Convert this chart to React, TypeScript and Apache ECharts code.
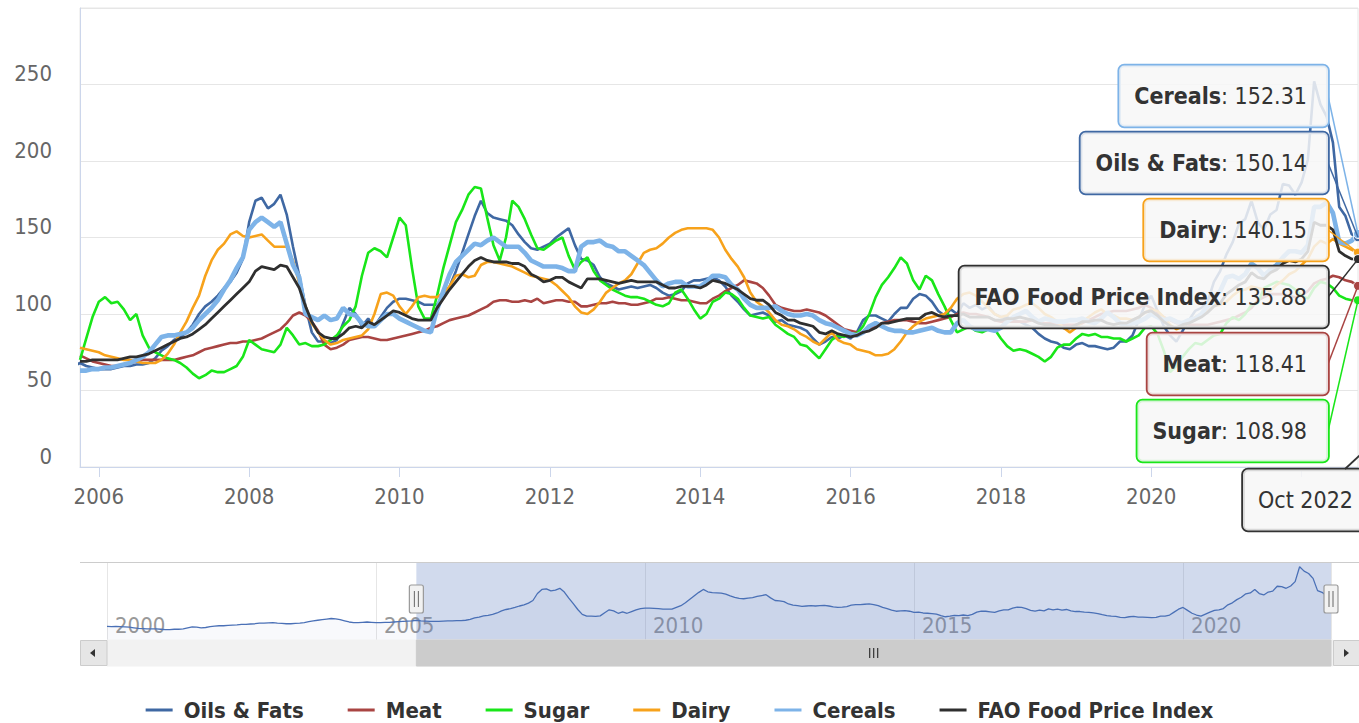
import React, { useEffect, useRef } from "react";
import * as echarts from "echarts";

// ---------------- DATA ----------------
const SERIES_NAMES = ["Oils & Fats", "Meat", "Sugar", "Dairy", "Cereals", "FAO Food Price Index"];
const X_TICK_YEARS = [2006, 2008, 2010, 2012, 2014, 2016, 2018, 2020, 2022];
// 2022 label sits under the tooltip header in the reference, so it is not printed
const X_LABEL_YEARS = [2006, 2008, 2010, 2012, 2014, 2016, 2018, 2020];
const NAV_TICK_YEARS = [2000, 2005, 2010, 2015, 2020];
const MONTHS = ["Jan", "Feb", "Mar", "Apr", "May", "Jun", "Jul", "Aug", "Sep", "Oct", "Nov", "Dec"];

const VIEW_FROM = 2005.75; // Oct 2005
const VIEW_TO = 2022.75; // Oct 2022
const NAV_FROM = 2000;

// Oils & Fats, monthly from Jan 2000
const OILS_FATS = [
  [47, 46, 47, 46, 45, 44, 42, 40, 39, 38, 38, 38],
  [37, 36, 36, 37, 37, 38, 42, 45, 44, 42, 43, 46],
  [48, 49, 49, 50, 51, 52, 54, 54, 55, 56, 58, 58],
  [59, 60, 58, 57, 56, 56, 57, 58, 60, 63, 66, 68],
  [70, 72, 74, 73, 70, 66, 62, 60, 60, 61, 62, 61],
  [60, 60, 61, 61, 62, 63, 64, 65, 66, 68, 66, 65],
  [64, 64, 64, 65, 66, 66, 67, 67, 68, 71, 76, 79],
  [83, 85, 88, 93, 100, 105, 108, 112, 117, 121, 127, 136],
  [160, 174, 176, 169, 172, 178, 165, 144, 125, 105, 88, 82],
  [82, 81, 83, 94, 104, 100, 92, 97, 92, 98, 104, 108],
  [110, 110, 109, 108, 106, 106, 106, 112, 118, 128, 140, 152],
  [164, 174, 166, 163, 162, 161, 158, 152, 147, 143, 142, 144],
  [146, 150, 153, 156, 145, 136, 135, 132, 124, 120, 118, 116],
  [117, 118, 117, 118, 119, 117, 114, 112, 113, 115, 120, 122],
  [122, 123, 124, 122, 118, 112, 108, 103, 99, 100, 101, 99],
  [95, 96, 93, 92, 91, 89, 84, 80, 82, 85, 84, 86],
  [84, 88, 96, 99, 99, 97, 95, 100, 104, 104, 110, 113],
  [112, 108, 102, 99, 103, 100, 107, 104, 106, 103, 105, 100],
  [98, 98, 96, 95, 93, 91, 87, 84, 82, 81, 78, 77],
  [80, 81, 79, 79, 78, 77, 78, 82, 82, 86, 96, 106],
  [112, 102, 92, 86, 82, 89, 96, 102, 104, 108, 121, 128],
  [139, 147, 159, 162, 174, 160, 155, 165, 168, 185, 184, 178],
  [186, 201, 252, 237, 229, 212, 170, 164, 152, 150.14],
].flat();

// The other indices, monthly from Oct 2005
const MEAT = [
  [73, 71, 69],
  [68, 67, 66, 66, 67, 68, 69, 70, 70, 70, 70, 70],
  [70, 71, 72, 73, 75, 77, 78, 79, 80, 81, 81, 82],
  [82, 83, 84, 86, 88, 90, 94, 99, 101, 99, 95, 89],
  [80, 77, 78, 80, 83, 84, 85, 85, 84, 83, 83, 84],
  [85, 86, 87, 88, 89, 91, 92, 94, 96, 97, 98, 99],
  [101, 103, 105, 108, 109, 109, 108, 108, 109, 108, 110, 107],
  [108, 109, 109, 108, 108, 105, 105, 106, 107, 107, 108, 107],
  [107, 106, 106, 107, 108, 110, 110, 111, 110, 109, 109, 108],
  [107, 107, 110, 112, 115, 117, 119, 122, 121, 120, 117, 112],
  [106, 104, 103, 102, 102, 103, 102, 101, 99, 96, 93, 90],
  [89, 88, 88, 90, 92, 94, 95, 96, 96, 96, 95, 94],
  [94, 95, 96, 97, 98, 100, 101, 100, 100, 99, 98, 96],
  [95, 95, 95, 95, 95, 96, 94, 94, 94, 93, 93, 93],
  [93, 94, 96, 98, 100, 101, 102, 102, 102, 103, 104, 106],
  [104, 101, 98, 96, 94, 94, 93, 93, 93, 93, 94, 95],
  [96, 97, 99, 101, 104, 109, 111, 113, 113, 113, 112, 111],
  [112, 115, 120, 122, 123, 125, 124, 122, 121, 118.41],
].flat();

const SUGAR = [
  [70, 84, 98],
  [108, 111, 107, 108, 103, 96, 100, 86, 78, 75, 73, 71],
  [70, 68, 65, 61, 58, 60, 63, 62, 62, 64, 66, 72],
  [83, 80, 77, 76, 75, 80, 91, 86, 80, 81, 79, 79],
  [80, 83, 86, 92, 96, 105, 125, 140, 143, 141, 137, 150],
  [163, 158, 130, 105, 97, 97, 112, 130, 145, 160, 168, 178],
  [183, 182, 163, 145, 135, 150, 174, 170, 162, 152, 143, 142],
  [145, 148, 150, 138, 129, 134, 137, 128, 122, 119, 116, 114],
  [112, 111, 111, 110, 108, 106, 105, 107, 114, 116, 110, 103],
  [97, 100, 108, 110, 114, 113, 110, 104, 99, 98, 97, 98],
  [93, 90, 87, 85, 80, 79, 75, 71, 77, 83, 86, 85],
  [87, 87, 92, 100, 111, 119, 124, 130, 137, 133, 122, 116],
  [125, 122, 113, 105, 96, 88, 90, 92, 89, 88, 90, 90],
  [84, 79, 76, 77, 76, 74, 72, 69, 72, 78, 80, 80],
  [84, 87, 86, 87, 85, 85, 84, 84, 82, 84, 86, 91],
  [92, 87, 76, 62, 66, 72, 77, 81, 80, 83, 86, 87],
  [94, 98, 96, 100, 106, 107, 117, 119, 121, 120, 119, 116],
  [112, 110, 117, 121, 120, 117, 112, 110, 109, 108.98],
].flat();

const DAIRY = [
  [78, 77, 76],
  [75, 73, 72, 71, 70, 70, 69, 68, 68, 68, 70, 74],
  [80, 88, 95, 104, 112, 125, 135, 142, 146, 152, 154, 151],
  [150, 151, 152, 148, 144, 144, 144, 135, 120, 105, 94, 88],
  [83, 80, 81, 83, 84, 85, 86, 90, 100, 113, 114, 112],
  [105, 100, 105, 111, 112, 111, 111, 114, 118, 125, 126, 124],
  [125, 132, 134, 134, 133, 132, 131, 129, 127, 125, 124, 123],
  [122, 119, 115, 111, 105, 101, 100, 103, 108, 114, 117, 120],
  [122, 126, 133, 140, 142, 143, 146, 150, 153, 155, 156, 156],
  [156, 156, 155, 150, 142, 136, 131, 124, 114, 108, 105, 101],
  [96, 93, 92, 90, 87, 85, 82, 80, 84, 88, 83, 81],
  [80, 77, 76, 75, 73, 73, 74, 77, 82, 88, 92, 95],
  [97, 98, 99, 100, 104, 110, 113, 114, 112, 108, 104, 100],
  [98, 99, 103, 104, 106, 107, 104, 100, 98, 95, 91, 88],
  [91, 95, 98, 101, 103, 100, 99, 97, 97, 96, 98, 101],
  [103, 102, 98, 93, 90, 92, 95, 98, 100, 102, 105, 106],
  [108, 112, 115, 116, 118, 117, 116, 115, 119, 122, 126, 128],
  [132, 136, 144, 148, 146, 149, 146, 144, 142, 140.15],
].flat();

const CEREALS = [
  [63, 63, 64],
  [64, 65, 65, 66, 67, 68, 70, 72, 75, 80, 85, 86],
  [86, 87, 88, 91, 96, 100, 104, 109, 116, 122, 130, 137],
  [155, 160, 163, 160, 157, 160, 146, 132, 124, 100, 98, 96],
  [99, 96, 97, 104, 100, 99, 94, 92, 92, 96, 100, 100],
  [97, 95, 93, 91, 89, 88, 103, 115, 126, 134, 138, 142],
  [146, 145, 148, 150, 147, 144, 144, 144, 140, 135, 133, 131],
  [131, 131, 130, 128, 128, 144, 147, 147, 148, 145, 144, 141],
  [141, 138, 135, 132, 127, 122, 118, 120, 121, 121, 118, 118],
  [118, 121, 125, 125, 124, 119, 116, 110, 106, 104, 104, 104],
  [105, 102, 100, 99, 99, 100, 99, 96, 94, 93, 91, 89],
  [87, 86, 88, 92, 94, 92, 90, 89, 89, 88, 88, 89],
  [90, 91, 89, 88, 88, 94, 96, 92, 90, 90, 90, 89],
  [91, 95, 98, 100, 102, 98, 95, 97, 96, 95, 95, 96],
  [96, 97, 95, 94, 97, 101, 98, 94, 93, 94, 95, 97],
  [100, 98, 96, 97, 95, 94, 96, 97, 100, 105, 111, 115],
  [124, 125, 123, 126, 133, 130, 125, 129, 132, 137, 141, 141],
  [140, 145, 170, 170, 173, 166, 147, 146, 148, 152.31],
].flat();

const FFPI = [
  [69, 69, 70],
  [70, 70, 70, 70, 71, 72, 72, 73, 74, 76, 78, 80],
  [82, 84, 85, 87, 90, 93, 97, 101, 105, 109, 113, 117],
  [121, 128, 131, 130, 129, 132, 131, 124, 117, 105, 95, 88],
  [85, 84, 84, 87, 91, 92, 91, 95, 93, 96, 99, 102],
  [101, 99, 97, 96, 96, 96, 104, 110, 116, 121, 126, 131],
  [135, 137, 135, 134, 134, 134, 133, 133, 131, 126, 124, 121],
  [122, 124, 124, 121, 119, 117, 123, 123, 123, 122, 121, 120],
  [121, 122, 121, 121, 121, 121, 119, 117, 117, 118, 118, 118],
  [117, 119, 122, 121, 120, 118, 116, 113, 110, 109, 109, 106],
  [101, 99, 96, 96, 94, 93, 92, 88, 87, 89, 87, 86],
  [85, 86, 88, 89, 91, 94, 94, 95, 96, 97, 97, 97],
  [100, 101, 99, 98, 99, 99, 100, 98, 98, 98, 98, 96],
  [96, 97, 97, 98, 97, 96, 94, 93, 93, 92, 91, 91],
  [93, 95, 95, 96, 96, 94, 93, 94, 94, 96, 98, 101],
  [102, 99, 95, 92, 91, 93, 94, 96, 98, 101, 105, 107],
  [113, 116, 119, 121, 127, 124, 123, 127, 129, 133, 135, 134],
  [136, 141, 160, 158, 158, 155, 141, 138, 136, 135.88],
].flat();

const SERIES_VALUES = [OILS_FATS, MEAT, SUGAR, DAIRY, CEREALS, FFPI];
const SERIES_START = [
  [2000, 0],
  [2005, 9],
  [2005, 9],
  [2005, 9],
  [2005, 9],
  [2005, 9],
];

// ---------------- STYLE ----------------
const COLORS = ["#3f68a3", "#a94442", "#19e619", "#f7a21b", "#7db3e8", "#2f2f2f"];
const WIDTHS = [2.6, 2.6, 2.6, 2.6, 4.6, 2.8];
const FONT = "'DejaVu Sans Condensed', 'Liberation Sans Narrow', 'DejaVu Sans', sans-serif";
const TIP_BG = "rgba(247,247,247,0.85)";

function toPoints(values: number[], start: number[]) {
  return values.map((v, i) => [start[0] + (start[1] + i) / 12, v]);
}

function buildOption(): any {
  const series: any[] = SERIES_NAMES.map((name, i) => {
    const last = SERIES_VALUES[i][SERIES_VALUES[i].length - 1];
    return {
      type: "line",
      name,
      xAxisIndex: 0,
      yAxisIndex: 0,
      data: toPoints(SERIES_VALUES[i], SERIES_START[i]),
      showSymbol: false,
      color: COLORS[i],
      lineStyle: { color: COLORS[i], width: WIDTHS[i] },
      itemStyle: { color: COLORS[i] },
      emphasis: { disabled: true },
      silent: true,
      z: 2 + i * 0.01,
      markPoint: {
        symbol: "circle",
        symbolSize: 9,
        silent: true,
        label: { show: false },
        itemStyle: { color: COLORS[i], borderColor: "#ffffff", borderWidth: 1 },
        data: [{ coord: [VIEW_TO, last] }],
      },
    };
  });

  series.push({
    type: "line",
    name: "Navigator",
    xAxisIndex: 1,
    yAxisIndex: 1,
    data: toPoints(OILS_FATS, SERIES_START[0]),
    showSymbol: false,
    lineStyle: { color: "#4a70b6", width: 1.3 },
    itemStyle: { color: "#4a70b6" },
    areaStyle: { color: "rgba(51,92,173,0.05)" },
    emphasis: { disabled: true },
    silent: true,
    markArea: {
      silent: true,
      itemStyle: { color: "rgba(102,133,194,0.3)" },
      data: [[{ xAxis: VIEW_FROM }, { xAxis: VIEW_TO }]],
    },
  });

  return {
    animation: false,
    backgroundColor: "#ffffff",
    textStyle: { fontFamily: FONT },
    grid: [
      {
        left: 80,
        top: 8,
        width: 1278,
        height: 459,
        show: true,
        borderColor: "#e6e6e6",
        borderWidth: 1,
        backgroundColor: "transparent",
      },
      { left: 107, top: 563, width: 1224, height: 77 },
    ],
    xAxis: [
      {
        type: "value",
        gridIndex: 0,
        min: VIEW_FROM,
        max: VIEW_TO,
        axisLine: { show: true, lineStyle: { color: "#ccd6eb", width: 1 } },
        axisTick: { show: true, length: 10, lineStyle: { color: "#ccd6eb" }, customValues: X_TICK_YEARS },
        axisLabel: {
          customValues: X_LABEL_YEARS,
          color: "#666666",
          fontSize: 22,
          fontFamily: FONT,
          margin: 18,
          formatter: (v: number) => String(Math.round(v)),
        },
        splitLine: { show: false },
      },
      {
        type: "value",
        gridIndex: 1,
        min: NAV_FROM,
        max: VIEW_TO,
        interval: 5,
        axisLine: { show: false },
        axisTick: { show: false },
        axisLabel: {
          customValues: NAV_TICK_YEARS,
          inside: true,
          align: "left",
          verticalAlign: "bottom",
          margin: 4,
          padding: [0, 0, 0, 8],
          color: "#999999",
          fontSize: 22,
          fontFamily: FONT,
          formatter: (v: number) => String(Math.round(v)),
        },
        splitLine: { show: true, lineStyle: { color: "#e6e6e6" } },
      },
    ],
    yAxis: [
      {
        type: "value",
        gridIndex: 0,
        min: 0,
        max: 300,
        interval: 50,
        axisLine: { show: true, lineStyle: { color: "#ccd6eb" } },
        axisTick: { show: false },
        axisLabel: {
          color: "#666666",
          fontSize: 22,
          fontFamily: FONT,
          margin: 28,
          verticalAlign: "bottom",
          showMaxLabel: false,
        },
        splitLine: { show: true, lineStyle: { color: "#e6e6e6" } },
      },
      { type: "value", gridIndex: 1, min: 0, max: 265, show: false },
    ],
    legend: {
      data: SERIES_NAMES,
      top: 699,
      left: "center",
      padding: 0,
      icon: "rect",
      itemWidth: 27,
      itemHeight: 3,
      itemGap: 44,
      selectedMode: false,
      textStyle: {
        fontSize: 22,
        lineHeight: 22,
        fontWeight: "bold",
        color: "#333333",
        fontFamily: FONT,
        padding: [0, 0, 0, 6],
      },
    },
    series,
  };
}

function buildGraphics(chart: any): any[] {
  const g: any[] = [];
  const TIP_RIGHT = 1328;
  const TIP_FIRST = 96;
  const TIP_STEP = 67;

  // navigator outline and handles
  const navL = chart.convertToPixel({ xAxisIndex: 1 }, VIEW_FROM);
  const navR = chart.convertToPixel({ xAxisIndex: 1 }, VIEW_TO);
  g.push({
    type: "line",
    z: 50,
    silent: true,
    shape: { x1: 80, y1: 562.5, x2: 1359, y2: 562.5 },
    style: { stroke: "#cccccc", lineWidth: 1 },
  });

  // scrollbar
  const sbTop = 640;
  const sbH = 26;
  g.push({
    type: "rect",
    z: 50,
    silent: true,
    shape: { x: 107, y: sbTop, width: 1333 - 107, height: sbH },
    style: { fill: "#f2f2f2", stroke: "#f2f2f2" },
  });
  g.push({
    type: "rect",
    z: 51,
    silent: true,
    shape: { x: navL, y: sbTop, width: navR - navL, height: sbH },
    style: { fill: "#cccccc", stroke: "#cccccc" },
  });
  const mid = (navL + navR) / 2;
  [-4, 0, 4].forEach((dx) =>
    g.push({
      type: "line",
      z: 52,
      silent: true,
      shape: { x1: mid + dx, y1: sbTop + 8, x2: mid + dx, y2: sbTop + 18 },
      style: { stroke: "#333333", lineWidth: 1.2 },
    })
  );
  g.push({
    type: "rect",
    z: 52,
    silent: true,
    shape: { x: 80.5, y: sbTop + 0.5, width: 26.5, height: sbH - 1 },
    style: { fill: "#e6e6e6", stroke: "#cccccc", lineWidth: 1 },
  });
  g.push({
    type: "polygon",
    z: 53,
    silent: true,
    shape: { points: [[95, sbTop + 9], [95, sbTop + 17], [90, sbTop + 13]] },
    style: { fill: "#333333" },
  });
  g.push({
    type: "rect",
    z: 52,
    silent: true,
    shape: { x: 1333.5, y: sbTop + 0.5, width: 26, height: sbH - 1 },
    style: { fill: "#e6e6e6", stroke: "#cccccc", lineWidth: 1 },
  });
  g.push({
    type: "polygon",
    z: 53,
    silent: true,
    shape: { points: [[1344, sbTop + 9], [1344, sbTop + 17], [1349, sbTop + 13]] },
    style: { fill: "#333333" },
  });

  [navL, navR].forEach((x) => {
    g.push({
      type: "rect",
      z: 55,
      silent: true,
      shape: { x: x - 7, y: 585, width: 14, height: 28, r: 2 },
      style: { fill: "#f2f2f2", stroke: "#999999", lineWidth: 1.2 },
    });
    [-2, 2].forEach((dx) =>
      g.push({
        type: "line",
        z: 56,
        silent: true,
        shape: { x1: x + dx, y1: 591, x2: x + dx, y2: 607 },
        style: { stroke: "#666666", lineWidth: 1 },
      })
    );
  });

  // split tooltip, sorted by value
  const lastVals = SERIES_VALUES.map((v) => v[v.length - 1]);
  const order = SERIES_NAMES.map((_, i) => i).sort((a, b) => lastVals[b] - lastVals[a]);
  order.forEach((si, k) => {
    const cy = TIP_FIRST + k * TIP_STEP;
    const p = chart.convertToPixel({ seriesIndex: si }, [VIEW_TO, lastVals[si]]);
    g.push({
      type: "line",
      z: 90,
      silent: true,
      shape: { x1: TIP_RIGHT, y1: cy, x2: p[0], y2: p[1] },
      style: { stroke: COLORS[si], lineWidth: 1.5 },
    });
    g.push({
      type: "text",
      z: 100 + k,
      silent: true,
      x: TIP_RIGHT,
      y: cy,
      style: {
        text: `{b|${SERIES_NAMES[si]}}{r|: ${lastVals[si].toFixed(2)}}`,
        rich: {
          b: { fontFamily: FONT, fontSize: 23, fontWeight: "bold", fill: "#333333" },
          r: { fontFamily: FONT, fontSize: 23, fontWeight: "normal", fill: "#333333" },
        },
        fontFamily: FONT,
        fontSize: 23,
        align: "right",
        verticalAlign: "middle",
        backgroundColor: TIP_BG,
        borderColor: COLORS[si],
        borderWidth: 1.8,
        borderRadius: 5,
        padding: [19, 21, 19, 15],
      },
    });
  });

  // tooltip header (date)
  const lastX = VIEW_TO;
  const yr = Math.floor(lastX);
  const mo = Math.round((lastX - yr) * 12);
  const headerText = `${MONTHS[mo]} ${yr}`;
  const hcy = TIP_FIRST + SERIES_NAMES.length * TIP_STEP + 2;
  g.push({
    type: "text",
    z: 110,
    silent: true,
    x: 1243,
    y: hcy,
    style: {
      text: headerText,
      fontFamily: FONT,
      fontSize: 23,
      fill: "#333333",
      align: "left",
      verticalAlign: "middle",
      backgroundColor: TIP_BG,
      borderColor: "#333333",
      borderWidth: 1.8,
      borderRadius: 5,
      padding: [19, 40, 19, 15],
    },
  });
  g.push({
    type: "polyline",
    z: 111,
    silent: true,
    shape: { points: [[1345, hcy - 31], [1360, hcy - 45]] },
    style: { stroke: "#333333", lineWidth: 1.8, fill: null },
  });

  return g;
}

export default function App() {
  const ref = useRef<HTMLDivElement>(null);
  useEffect(() => {
    const el = ref.current;
    if (!el) return;
    const chart = echarts.init(el, undefined, { renderer: "svg" });
    chart.setOption(buildOption());
    chart.setOption({ graphic: buildGraphics(chart) });
    return () => chart.dispose();
  }, []);
  return (
    <div
      ref={ref}
      style={{ position: "absolute", left: 0, top: 0, width: 1359, height: 723, background: "#ffffff" }}
    />
  );
}
